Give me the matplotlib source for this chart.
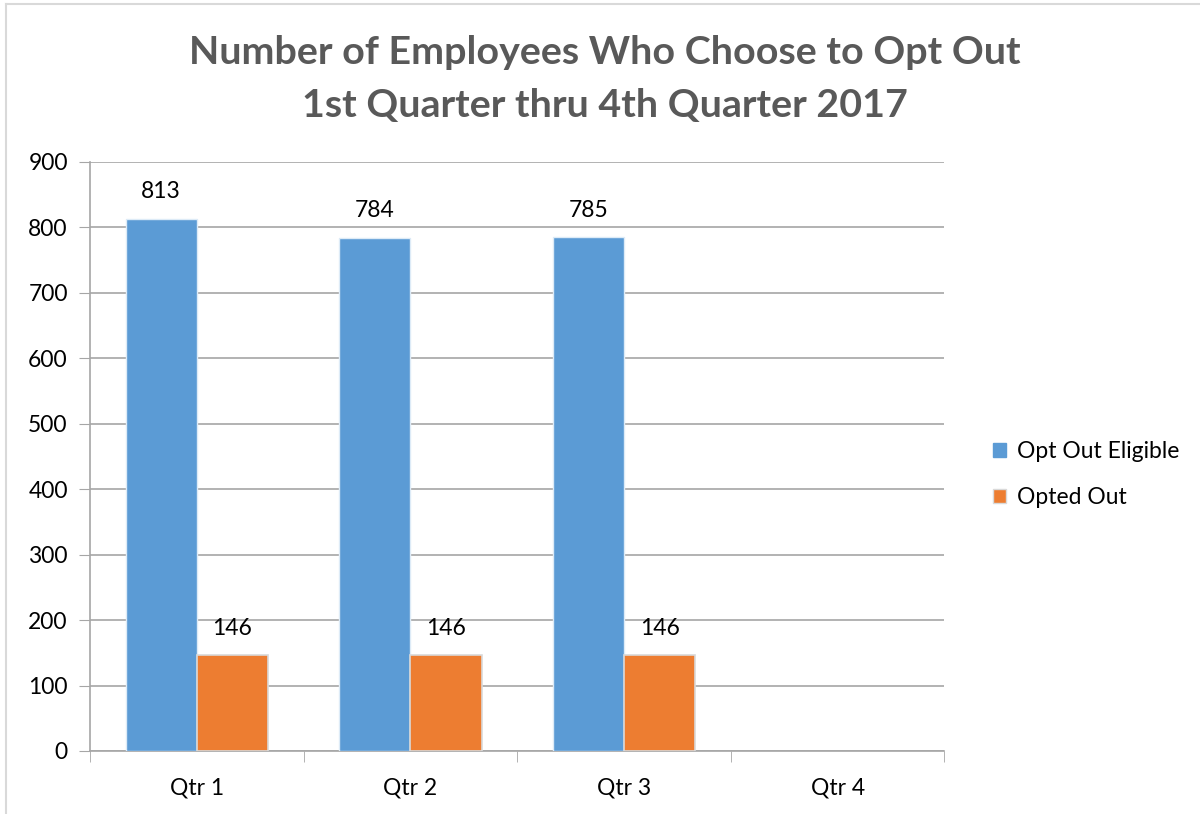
import numpy as np
import matplotlib
matplotlib.use("Agg")
import matplotlib.pyplot as plt
from matplotlib.lines import Line2D

quarters = ["Qtr 1", "Qtr 2", "Qtr 3", "Qtr 4"]
eligible = [813, 784, 785, None]
opted_out = [146, 146, 146, None]
series_names = ["Opt Out Eligible", "Opted Out"]
yticks = [0, 100, 200, 300, 400, 500, 600, 700, 800, 900]

blue = "#5B9BD5"
orange = "#ED7D31"
grid_c = "#A6A6A6"

plt.rcParams['font.family'] = ['Lato', 'DejaVu Sans']

fig = plt.figure(figsize=(12, 8.14), dpi=100)
ax = fig.add_axes([0.075, 0.0774, 0.712, 0.7236])

x = np.arange(len(quarters))
w = 1 / 3.0
e_vals = [np.nan if v is None else v for v in eligible]
o_vals = [np.nan if v is None else v for v in opted_out]
b1 = ax.bar(x - w / 2, e_vals, w, color=blue, edgecolor="#DDEBF7", linewidth=1, zorder=3)
b2 = ax.bar(x + w / 2, o_vals, w, color=orange, edgecolor="#D9D9D9", linewidth=1.2, zorder=3)

for bars, vals in ((b1, eligible), (b2, opted_out)):
  for r, v in zip(bars, vals):
    if v is None:
      continue
    ax.annotate(str(v), (r.get_x() + r.get_width() / 2, v), xytext=(0, 12),
                textcoords="offset points", ha="center", va="bottom", fontsize=16.5, color="black")

ax.set_xlim(-0.5, len(quarters) - 0.5)
ax.set_ylim(0, 900)
ax.set_yticks(yticks)
ax.tick_params(axis="y", length=8, color=grid_c, labelsize=16.5, pad=8)
ax.set_xticks(x)
ax.set_xticklabels(quarters)
ax.set_xticks(np.arange(len(quarters) + 1) - 0.5, minor=True)
ax.tick_params(axis="x", which="major", length=0, labelsize=16.5, pad=19)
ax.tick_params(axis="x", which="minor", length=8, color=grid_c)
ax.yaxis.grid(True, color=grid_c, linewidth=1.2, zorder=0)
for s in ("top", "right"):
  ax.spines[s].set_visible(False)
for s in ("left", "bottom"):
  ax.spines[s].set_color(grid_c)
  ax.spines[s].set_linewidth(1.2)

handles = [plt.Rectangle((0, 0), 1, 1, color=blue), plt.Rectangle((0, 0), 1, 1, color=orange, ec="#D9D9D9")]
fig.legend(handles, series_names, loc="center left", bbox_to_anchor=(0.81, 0.417), frameon=False,
           fontsize=16.5, handlelength=0.6, handleheight=0.6, handletextpad=0.45, labelspacing=1.1)

fig.text(0.504, 1 - 53 / 814, "Number of Employees Who Choose to Opt Out", ha="center", va="center",
         fontsize=28.4, fontweight="bold", color="#595959")
fig.text(0.504, 1 - 105 / 814, "1st Quarter thru 4th Quarter 2017", ha="center", va="center",
         fontsize=28.4, fontweight="bold", color="#595959")

fig.add_artist(Line2D([6 / 1200, 6 / 1200], [0, 1 - 4 / 814], color="#D9D9D9", lw=1.5))
fig.add_artist(Line2D([6 / 1200, 1], [1 - 4 / 814, 1 - 4 / 814], color="#D9D9D9", lw=1.5))

fig.savefig("out.png", dpi=100)
plt.close(fig)
